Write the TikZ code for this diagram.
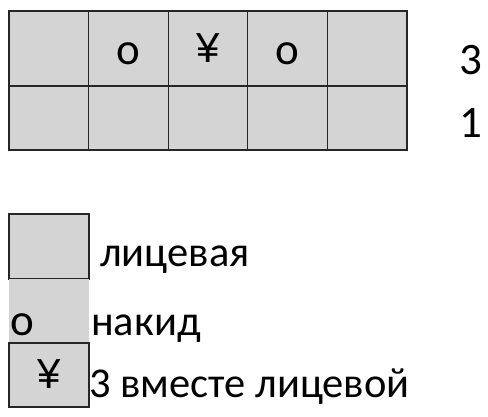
\documentclass[tikz,border=0pt]{standalone}
\usepackage{fontspec}
\setmainfont{Carlito}
\newfontfamily\yenfont{Liberation Sans}
\usetikzlibrary{positioning}
\definecolor{cellgray}{RGB}{212,212,212}
\newcommand{\yen}{{\yenfont\fontsize{42}{42}\selectfont ¥}}
\tikzstyle{cell}=[draw=black!85, fill=cellgray, line width=1.3pt, outer sep=0pt,
    inner sep=0pt, minimum width=79.6pt, text height=33pt, text depth=0pt,
    font=\fontsize{45}{45}\selectfont]
\tikzstyle{toprow}=[cell, minimum height=75pt]
\tikzstyle{botrow}=[cell, minimum height=64pt]
\tikzstyle{rowno}=[anchor=base, inner sep=0pt, font=\fontsize{45}{45}\selectfont]
\tikzstyle{key}=[cell, minimum width=80pt, minimum height=65pt]
\tikzstyle{keytext}=[anchor=base west, inner sep=0pt, font=\fontsize{42.5}{42.5}\selectfont]

\begin{document}
\begin{tikzpicture}[x=1pt, y=-1pt]
    \useasboundingbox (0,0) rectangle (488,417);
    % chart: row 3 above, row 1 below
    \node (t1) [toprow] at (48.8,48.5) {};
    \node (t2) [toprow, right=0pt of t1] {o};
    \node (t3) [toprow, right=0pt of t2, text height=29pt] {\yen};
    \node (t4) [toprow, right=0pt of t3] {o};
    \node (t5) [toprow, right=0pt of t4] {};
    \node (b1) [botrow, below=0pt of t1] {};
    \node (b2) [botrow, right=0pt of b1] {};
    \node (b3) [botrow, right=0pt of b2] {};
    \node (b4) [botrow, right=0pt of b3] {};
    \node (b5) [botrow, right=0pt of b4] {};
    \node (n3) [rowno] at (470.5,75) {3};
    \node (n1) [rowno] at (470.5,138) {1};
    % legend
    \node (knit) [key] at (49,246.5) {};
    \node (yo) [key, draw=none, minimum height=63pt, text height=48pt,
        text width=78pt, inner xsep=1pt, align=left] at (49,311) {o};
    \node (k3tog) [key, minimum height=64pt, text height=26pt] at (49,375) {\yen};
    \node (knit-t) [keytext] at (100,267) {лицевая};
    \node (yo-t) [keytext] at (91,335) {накид};
    \node (k3tog-t) [keytext] at (89,397) {3 вместе лицевой};
\end{tikzpicture}
\end{document}
